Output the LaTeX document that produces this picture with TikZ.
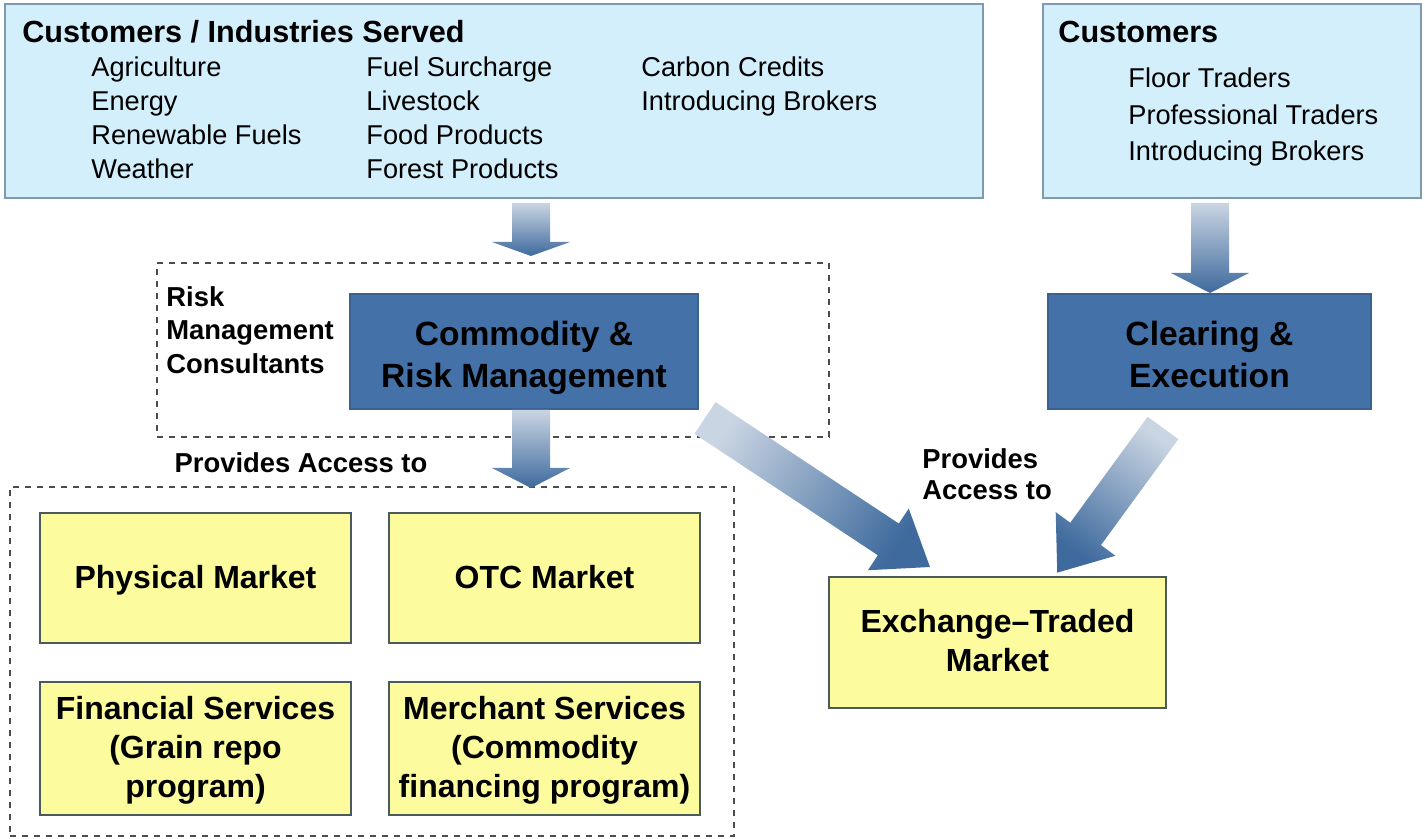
\documentclass[tikz,border=0pt]{standalone}
\usepackage{fontspec}
\setmainfont{Liberation Sans}
\usetikzlibrary{calc}
\definecolor{skyfill}{HTML}{D4EFFC}
\definecolor{skyline}{HTML}{7F99AF}
\definecolor{steel}{HTML}{4471A7}
\definecolor{steelline}{HTML}{3A6290}
\definecolor{lemon}{HTML}{FCFC9E}
\definecolor{lemonline}{HTML}{4B5A5A}
\definecolor{arrlight}{HTML}{CAD5E3}
\definecolor{arrdark}{HTML}{3E6A9D}
\tikzset{
  sky/.style={draw=skyline,fill=skyfill,line width=1pt,minimum height=97pt},
  steelbox/.style={draw=steelline,fill=steel,line width=.8pt,align=center,text height=36pt,text depth=0pt,
    minimum height=57.5pt,font=\fontsize{16.8}{21}\selectfont\bfseries},
  lemonbox/.style={draw=lemonline,fill=lemon,line width=.8pt,align=center,
    minimum width=155.5pt,font=\fontsize{16}{19.5}\selectfont\bfseries},
  groupbox/.style={draw=black!70,dashed,line width=.6pt},
  heading/.style={anchor=base west,inner sep=0pt,font=\fontsize{15.3}{18}\selectfont\bfseries},
  item/.style={anchor=base west,inner sep=0pt,font=\fontsize{13.6}{17}\selectfont},
  tag/.style={inner sep=0pt,align=left,font=\fontsize{13.7}{16.75}\selectfont\bfseries},
}
% #1 head length, #2 half head width, #3 from, #4 to
\newcommand\fatarrow[4][10pt]{%
  \path let \p1=($(#4)-(#3)$), \n1={atan2(\y1,\x1)}, \n2={veclen(\x1,\y1)}, \n3={\n1+90} in
    [top color=arrlight,bottom color=arrdark,shading angle=\n3]
    [shift={(#3)},rotate=\n1]
    (0pt,-9.5pt) -- ({\n2-#1},-9.5pt) -- ({\n2-#1},-#2) -- (\n2,0pt)
    -- ({\n2-#1},#2) -- ({\n2-#1},9.5pt) -- (0pt,9.5pt) -- cycle;}

\begin{document}
\begin{tikzpicture}[x=.5pt,y=-.5pt]
  \useasboundingbox (0,0) rectangle (1425,839);
  \node[sky,minimum width=489pt] (cust) at (494,101) {};
  \node[sky,minimum width=189pt] (trad) at (1232,101) {};
  \node[heading] at (22,43) {Customers / Industries Served};
  \foreach \t [count=\i] in {Agriculture,Energy,Renewable Fuels,Weather}
    \node[item] at (91,{43+34*\i}) {\t};
  \foreach \t [count=\i] in {Fuel Surcharge,Livestock,Food Products,Forest Products}
    \node[item] at (366,{43+34*\i}) {\t};
  \foreach \t [count=\i] in {Carbon Credits,Introducing Brokers}
    \node[item] at (641,{43+34*\i}) {\t};
  \node[heading] at (1058,43) {Customers};
  \foreach \t [count=\i] in {Floor Traders,Professional Traders,Introducing Brokers}
    \node[item] at (1128,{51.5+36.5*\i}) {\t};

  \node[groupbox,minimum width=336pt,minimum height=87pt] (risk) at (493,350) {};
  \node[tag,anchor=west] at (166,330) {Risk\\Management\\Consultants};
  \node[steelbox,minimum width=174pt] (cmrm) at (524,351.5) {Commodity \&\\Risk Management};
  \node[steelbox,minimum width=161.5pt] (clear) at (1209.5,351.5) {Clearing \&\\Execution};

  \node[tag] at (301,463) {Provides Access to};
  \node[groupbox,minimum width=362pt,minimum height=174.5pt] (access) at (372,661.5) {};
  \node[lemonbox,minimum height=65pt,text height=11.7pt,text depth=1.2pt] (phys) at (195.5,578) {Physical Market};
  \node[lemonbox,minimum height=65pt,text height=11.7pt,text depth=1.2pt] (otc) at (544.5,578) {OTC Market};
  \node[lemonbox,minimum height=66.5pt,text depth=1.4pt] (fin) at (195.5,748.5) {Financial Services\\(Grain repo\\program)};
  \node[lemonbox,minimum height=66.5pt,text depth=1.4pt] (merch) at (544.5,748.5) {Merchant Services\\(Commodity\\financing program)};
  \node[lemonbox,minimum width=168.5pt,minimum height=65.5pt,text depth=2pt] (exch) at (997.5,642.5) {Exchange--Traded\\Market};
  \node[tag,anchor=west,font=\fontsize{13.7}{15.5}\selectfont\bfseries] at (922,474.5) {Provides\\Access to};

  \coordinate (a1) at (531,203); \coordinate (b1) at (531,256);
  \coordinate (a2) at (531,410); \coordinate (b2) at (531,488);
  \coordinate (a3) at (1210,203); \coordinate (b3) at (1210,293);
  \coordinate (a4) at (705,418); \coordinate (b4) at (930,567);
  \coordinate (a5) at (1163,428); \coordinate (b5) at (1057,573);
  \fatarrow[7pt]{19.5pt}{a1}{b1}
  \fatarrow{19.5pt}{a2}{b2}
  \fatarrow{19.5pt}{a3}{b3}
  \fatarrow[25pt]{18.5pt}{a4}{b4}
  \fatarrow[24pt]{18.5pt}{a5}{b5}
\end{tikzpicture}
\end{document}
